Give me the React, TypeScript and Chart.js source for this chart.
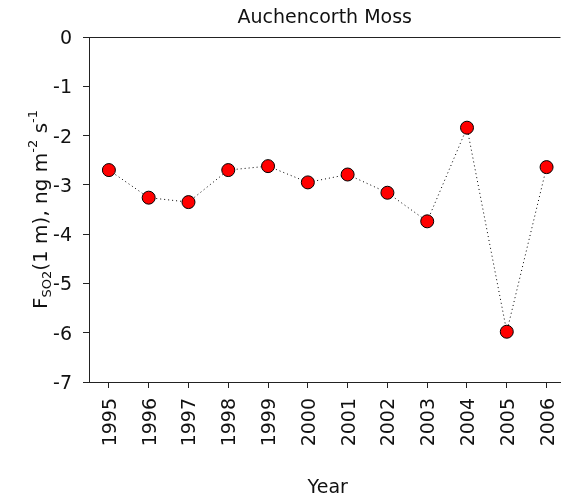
import React, { useEffect, useRef } from "react";
import { Chart, registerables } from "chart.js";

Chart.register(...registerables);

const title = "Auchencorth Moss";
const xTitle = "Year";
const years = [1995, 1996, 1997, 1998, 1999, 2000, 2001, 2002, 2003, 2004, 2005, 2006];
const fluxValues = [-2.70, -3.26, -3.35, -2.70, -2.62, -2.95, -2.79, -3.16, -3.74, -1.84, -5.98, -2.64];
const yTicks = [0, -1, -2, -3, -4, -5, -6, -7];
const FONT = '"DejaVu Sans", Verdana, sans-serif';

function drawText(ctx: CanvasRenderingContext2D, text: string, x: number, y: number, rot: number, align: CanvasTextAlign, font: string) {
  ctx.save();
  ctx.translate(x, y);
  if (rot) ctx.rotate(rot);
  ctx.font = font;
  ctx.textAlign = align;
  ctx.textBaseline = "alphabetic";
  ctx.fillText(text, 0, 0);
  ctx.restore();
}

const textPlugin = {
  id: "textPlugin",
  afterDraw(chart: any) {
    const { ctx, chartArea, scales } = chart;
    const xS = scales.x;
    const yS = scales.y;
    ctx.save();
    ctx.fillStyle = "#111";
    ctx.strokeStyle = "#222";
    ctx.lineWidth = 1;
    // top frame line
    const ty = Math.round(chartArea.top) + 0.5;
    ctx.beginPath();
    ctx.moveTo(chartArea.left, ty);
    ctx.lineTo(chartArea.right, ty);
    ctx.stroke();

    const F = `19px ${FONT}`;
    const centerX = xS.getPixelForValue((years[0] + years[years.length - 1]) / 2);
    drawText(ctx, title, centerX - 3, 23, 0, "center", F);
    drawText(ctx, xTitle, centerX, 493, 0, "center", F);

    yTicks.forEach((v) => {
      const py = yS.getPixelForValue(v);
      drawText(ctx, String(v), chartArea.left - 17, py + 7, 0, "right", F);
    });
    years.forEach((yr) => {
      const px = xS.getPixelForValue(yr);
      drawText(ctx, String(yr), px + 7, chartArea.bottom + 16, -Math.PI / 2, "right", F);
    });

    // y axis title with subscript / superscripts
    const segs: { t: string; size: number; dy: number }[] = [
      { t: "F", size: 20, dy: 0 },
      { t: "SO2", size: 13, dy: 4 },
      { t: "(1 m), ng m", size: 20, dy: 0 },
      { t: "-2", size: 13, dy: -10 },
      { t: " s", size: 20, dy: 0 },
      { t: "-1", size: 13, dy: -10 },
    ];
    ctx.save();
    const cy = (chartArea.top + chartArea.bottom) / 2;
    ctx.translate(47, cy);
    ctx.rotate(-Math.PI / 2);
    ctx.textAlign = "left";
    ctx.textBaseline = "alphabetic";
    let total = 0;
    segs.forEach((s) => {
      ctx.font = `${s.size}px ${FONT}`;
      total += ctx.measureText(s.t).width;
    });
    let cx = -total / 2;
    segs.forEach((s) => {
      ctx.font = `${s.size}px ${FONT}`;
      ctx.fillText(s.t, cx, s.dy);
      cx += ctx.measureText(s.t).width;
    });
    ctx.restore();
    ctx.restore();
  },
};

export default function App() {
  const ref = useRef<HTMLCanvasElement | null>(null);
  useEffect(() => {
    document.body.style.margin = "0";
    const canvas = ref.current;
    if (!canvas) return;
    const chart = new Chart(canvas, {
      type: "line",
      data: {
        datasets: [
          {
            data: years.map((y, i) => ({ x: y, y: fluxValues[i] })),
            borderColor: "#000",
            borderWidth: 1,
            borderDash: [1, 3],
            tension: 0,
            pointRadius: 6.5,
            pointBackgroundColor: "#ff0000",
            pointBorderColor: "#000",
            pointBorderWidth: 1,
          },
        ],
      },
      options: {
        animation: false,
        responsive: false,
        layout: { padding: { left: 0, top: 37, right: 3, bottom: 0 } },
        plugins: { legend: { display: false }, tooltip: { enabled: false }, title: { display: false } },
        scales: {
          x: {
            type: "linear",
            min: 1994.5,
            max: 2006.35,
            afterBuildTicks: (scale: any) => {
              scale.ticks = years.map((v) => ({ value: v }));
            },
            afterFit: (scale: any) => {
              scale.height = 118;
              scale.paddingLeft = 0;
              scale.paddingRight = 0;
            },
            ticks: { display: false },
            grid: { drawOnChartArea: false, drawTicks: true, tickLength: 6, color: "#222" },
            border: { display: true, color: "#222", width: 1 },
          },
          y: {
            type: "linear",
            min: -7,
            max: 0,
            afterBuildTicks: (scale: any) => {
              scale.ticks = yTicks.map((v) => ({ value: v }));
            },
            afterFit: (scale: any) => {
              scale.width = 89;
              scale.paddingTop = 0;
              scale.paddingBottom = 0;
            },
            ticks: { display: false },
            grid: { drawOnChartArea: false, drawTicks: true, tickLength: 6, color: "#222" },
            border: { display: true, color: "#222", width: 1 },
          },
        },
      },
      plugins: [textPlugin],
    } as any);
    return () => chart.destroy();
  }, []);
  return (
    <div style={{ width: 568, height: 500, background: "#fff" }}>
      <canvas ref={ref} width={568} height={500} style={{ display: "block" }} />
    </div>
  );
}
